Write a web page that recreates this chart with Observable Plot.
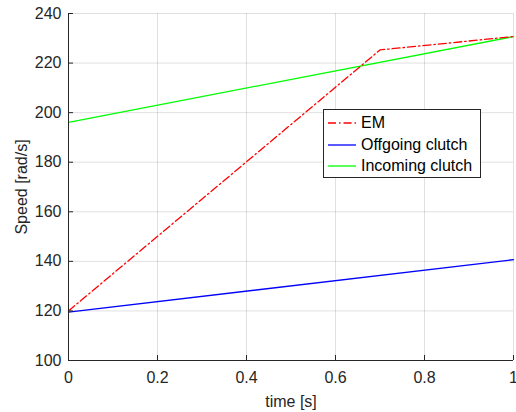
<!DOCTYPE html>
<html><head><meta charset="utf-8">
<script src="https://cdn.jsdelivr.net/npm/d3@7"></script>
<script src="https://cdn.jsdelivr.net/npm/@observablehq/plot@0.6"></script>
<style>
body{margin:0;background:#fff;font-family:"Liberation Sans",Arial,sans-serif;}
#wrap{position:relative;width:516px;height:412px;}
#legend{position:absolute;left:323px;top:109px;width:158px;height:69px;border:1px solid #262626;background:#fff;box-sizing:border-box;font-size:16px;color:#000;}
#legend .row{position:absolute;left:4px;height:20px;display:flex;align-items:center;}
#legend svg{margin-right:5px;}
</style></head>
<body><div id="wrap"></div>
<script>
const seriesNames = ["EM", "Offgoing clutch", "Incoming clutch"];
const seriesColors = ["#ff0000", "#0000ff", "#00ff00"];
const emTime = [0, 0.7, 1];
const emSpeed = [120, 225.3, 230.7];
const offTime = [0, 1];
const offSpeed = [119.5, 140.7];
const incTime = [0, 1];
const incSpeed = [196.1, 230.7];
const xTicks = [0, 0.2, 0.4, 0.6, 0.8, 1];
const yTicks = [100, 120, 140, 160, 180, 200, 220, 240];

const toRows = (t, v) => t.map((d, i) => ({t: d, v: v[i]}));
const em = toRows(emTime, emSpeed);
const off = toRows(offTime, offSpeed);
const inc = toRows(incTime, incSpeed);

const axisColor = "#262626";
const fs = 16;
const chart = Plot.plot({
  width: 516, height: 412,
  marginLeft: 68, marginRight: 3, marginTop: 13, marginBottom: 52,
  style: {fontFamily: '"Liberation Sans", Arial, sans-serif', fontSize: fs + "px", color: axisColor, background: "#fff"},
  x: {domain: [0, 1]},
  y: {domain: [100, 240]},
  marks: [
    Plot.gridX(xTicks, {stroke: "#000", strokeOpacity: 0.12}),
    Plot.gridY(yTicks, {stroke: "#000", strokeOpacity: 0.12}),
    Plot.line(off, {x: "t", y: "v", stroke: seriesColors[1], strokeWidth: 1.3}),
    Plot.line(inc, {x: "t", y: "v", stroke: seriesColors[2], strokeWidth: 1.3}),
    Plot.line(em, {x: "t", y: "v", stroke: seriesColors[0], strokeWidth: 1.3, strokeDasharray: "8,3,1.5,3"}),
    Plot.ruleY([100], {stroke: axisColor}),
    Plot.ruleX([0], {stroke: axisColor}),
    Plot.axisX(xTicks, {tickSize: -5, text: null, stroke: axisColor, label: null}),
    Plot.axisY(yTicks, {tickSize: -5, text: null, stroke: axisColor, label: null}),
    Plot.axisX(xTicks, {tickSize: 0, tickPadding: 11, tickFormat: d => String(d), label: null, fill: axisColor, fontSize: fs}),
    Plot.axisY(yTicks, {tickSize: 0, tickPadding: 7, label: null, fill: axisColor, fontSize: fs}),
    Plot.text(["time [s]"], {frameAnchor: "bottom", dy: 46, fill: axisColor, fontSize: fs}),
    Plot.text(["Speed [rad/s]"], {frameAnchor: "left", textAnchor: "middle", rotate: -90, dx: -47, fill: axisColor, fontSize: fs})
  ]
});
const wrap = document.getElementById("wrap");
wrap.appendChild(chart);

const legend = document.createElement("div");
legend.id = "legend";
const dashes = ["8,3,1.5,3", null, null];
seriesNames.forEach((name, i) => {
  const row = document.createElement("div");
  row.className = "row";
  row.style.top = (3 + i * 21.5) + "px";
  row.innerHTML = `<svg width="28" height="4"><line x1="0" y1="2" x2="28" y2="2" stroke="${seriesColors[i]}" stroke-width="1.3" ${dashes[i] ? `stroke-dasharray="${dashes[i]}"` : ""}/></svg><span>${name}</span>`;
  legend.appendChild(row);
});
wrap.appendChild(legend);
</script></body></html>
